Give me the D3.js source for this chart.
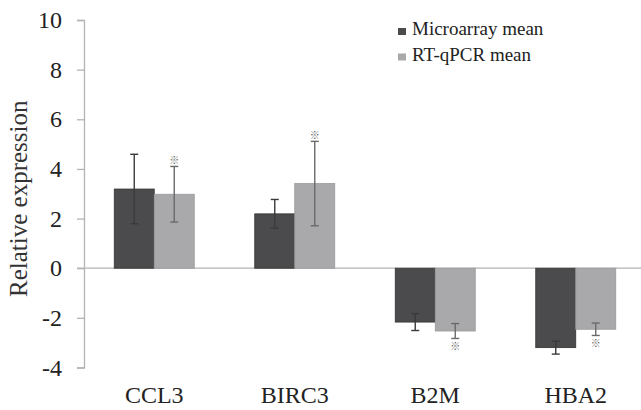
<!DOCTYPE html>
<html>
<head>
<meta charset="utf-8">
<script src="https://cdn.jsdelivr.net/npm/d3@7"></script>
<style>
  body { margin: 0; background: #fff; }
</style>
</head>
<body>
<svg id="chart" width="641" height="410"></svg>
<script>
'use strict';
// data
var categories = ['CCL3', 'BIRC3', 'B2M', 'HBA2'];
var seriesNames = ['Microarray mean', 'RT-qPCR mean'];
var microarray = [3.19, 2.19, -2.17, -3.2];
var microarrayErr = [1.4, 0.58, 0.34, 0.26];
var qpcr = [2.98, 3.41, -2.53, -2.46];
var qpcrErr = [1.12, 1.7, 0.3, 0.25];
var qpcrStar = [true, true, true, true];
var yTicks = [-4, -2, 0, 2, 4, 6, 8, 10];

var serif = "'Liberation Serif', 'Times New Roman', Times, 'DejaVu Serif', 'Noto Serif', serif";
var colors = ['#4b4b4d', '#a9a9ab'];
var svg = d3.select('#chart');

var y = d3.scaleLinear().domain([-4, 10]).range([367.5, 20]);
var x = d3.scaleBand().domain(categories).range([84, 646]);
var barW = 40;
var x1 = d3.scaleBand().domain(seriesNames)
  .range([x.bandwidth() / 2 - barW, x.bandwidth() / 2 + barW]);

var rows = [];
categories.forEach(function(c, i) {
  rows.push({cat: c, s: seriesNames[0], v: microarray[i], e: microarrayErr[i], star: false, k: 0});
  rows.push({cat: c, s: seriesNames[1], v: qpcr[i], e: qpcrErr[i], star: qpcrStar[i], k: 1});
});

// y axis
var yAxis = svg.append('g').attr('transform', 'translate(84,0)')
  .call(d3.axisLeft(y).tickValues(yTicks).tickSize(7).tickPadding(15)
    .tickFormat(function(d) { return String(d); }));
yAxis.attr('font-family', null);
yAxis.selectAll('path, line').attr('stroke', '#b3b3b3').attr('stroke-width', 1.3);
yAxis.selectAll('text').attr('font-size', 24).attr('fill', '#222').style('font-family', serif);

// zero line
svg.append('line')
  .attr('x1', 77).attr('x2', 641)
  .attr('y1', y(0)).attr('y2', y(0))
  .attr('stroke', '#b3b3b3').attr('stroke-width', 1.3);

// bars
var g = svg.append('g');
g.selectAll('rect.bar').data(rows).enter().append('rect')
  .attr('class', 'bar')
  .attr('x', function(d) { return x(d.cat) + x1(d.s); })
  .attr('width', x1.bandwidth())
  .attr('y', function(d) { return y(Math.max(0, d.v)); })
  .attr('height', function(d) { return Math.abs(y(d.v) - y(0)); })
  .attr('fill', function(d) { return colors[d.k]; })
  .attr('stroke', function(d) { return d.k === 0 ? '#333' : '#9a9a9c'; })
  .attr('stroke-width', 0.8);

// error bars
var eb = g.selectAll('g.err').data(rows).enter().append('g').attr('class', 'err')
  .attr('stroke', function(d) { return d.k === 0 ? '#3a3a3a' : '#6a6a6a'; })
  .attr('stroke-width', 1.4);
function cx(d) { return x(d.cat) + x1(d.s) + x1.bandwidth() / 2; }
eb.append('line')
  .attr('x1', cx).attr('x2', cx)
  .attr('y1', function(d) { return y(d.v - d.e); })
  .attr('y2', function(d) { return y(d.v + d.e); });
eb.append('line')
  .attr('x1', function(d) { return cx(d) - 4; }).attr('x2', function(d) { return cx(d) + 4; })
  .attr('y1', function(d) { return y(d.v + d.e); }).attr('y2', function(d) { return y(d.v + d.e); });
eb.append('line')
  .attr('x1', function(d) { return cx(d) - 4; }).attr('x2', function(d) { return cx(d) + 4; })
  .attr('y1', function(d) { return y(d.v - d.e); }).attr('y2', function(d) { return y(d.v - d.e); });

// significance marks
g.selectAll('text.star').data(rows.filter(function(d) { return d.star; })).enter().append('text')
  .attr('class', 'star')
  .attr('x', cx)
  .attr('y', function(d) { return d.v >= 0 ? y(d.v + d.e) - 6 : y(d.v - d.e) + 8; })
  .attr('dy', '0.35em')
  .attr('text-anchor', 'middle')
  .attr('font-size', 10)
  .attr('fill', '#666')
  .style('font-family', '"Noto Sans CJK SC", sans-serif')
  .text('※');

// category labels
svg.selectAll('text.cat').data(categories).enter().append('text')
  .attr('class', 'cat')
  .attr('x', function(d) { return x(d) + x.bandwidth() / 2; })
  .attr('y', 403)
  .attr('text-anchor', 'middle')
  .attr('font-size', 24)
  .attr('fill', '#222')
  .style('font-family', serif)
  .text(function(d) { return d; });

// y title
svg.append('text')
  .attr('transform', 'translate(27,' + (y(3) + 5) + ') rotate(-90)')
  .attr('text-anchor', 'middle')
  .attr('font-size', 25)
  .attr('fill', '#333')
  .style('font-family', serif)
  .text('Relative expression');

// legend
var leg = svg.append('g').selectAll('g').data(seriesNames).enter().append('g')
  .attr('transform', function(d, i) { return 'translate(398,' + (28 + i * 25.5) + ')'; });
leg.append('rect').attr('width', 8).attr('height', 7)
  .attr('fill', function(d, i) { return colors[i]; });
leg.append('text').attr('x', 14).attr('y', 7)
  .attr('font-size', 19).attr('fill', '#222')
  .style('font-family', serif)
  .text(function(d) { return d; });
</script>
</body>
</html>
